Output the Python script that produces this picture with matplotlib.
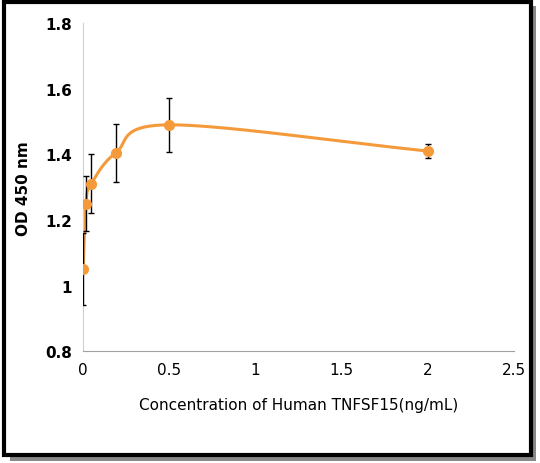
import numpy as np
import matplotlib
matplotlib.use('Agg')
import matplotlib.pyplot as plt
from matplotlib.patches import Rectangle

conc = [0.0, 0.016, 0.047, 0.19, 0.5, 2.0]
od = [1.05, 1.25, 1.31, 1.405, 1.49, 1.41]
err = [0.11, 0.085, 0.09, 0.088, 0.082, 0.022]


def catmull(x, y, n=40):
    # smooth line through the points, like Excel's smoothed line
    x = np.asarray(x); y = np.asarray(y)
    px = np.concatenate([[2*x[0]-x[1]], x, [2*x[-1]-x[-2]]])
    py = np.concatenate([[2*y[0]-y[1]], y, [2*y[-1]-y[-2]]])
    xs, ys = [], []
    for i in range(1, len(px)-2):
        t = np.linspace(0, 1, n)
        for arr, out in ((px, xs), (py, ys)):
            p0, p1, p2, p3 = arr[i-1], arr[i], arr[i+1], arr[i+2]
            out.extend(0.5*((2*p1) + (-p0+p2)*t + (2*p0-5*p1+4*p2-p3)*t**2
                            + (-p0+3*p1-3*p2+p3)*t**3))
    return np.array(xs), np.array(ys)


fig = plt.figure(figsize=(5.4, 4.64), dpi=100)
# frame with shadow
fig.patches.append(Rectangle((0.018, 0.005), 0.975, 0.98, transform=fig.transFigure,
                             facecolor='#888888', edgecolor='none', zorder=-3))
fig.patches.append(Rectangle((0.008, 0.018), 0.975, 0.975, transform=fig.transFigure,
                             facecolor='white', edgecolor='black', linewidth=3, zorder=-2))

ax = fig.add_axes([0.154, 0.241, 0.798, 0.707])
ax.set_facecolor('none')
sx, sy = catmull(conc, od)
ax.plot(sx, sy, color='#F59A3A', linewidth=2.2, zorder=2)
ax.errorbar(conc, od, yerr=err, fmt='o', color='#F59A3A', ecolor='black',
            elinewidth=1, capsize=2.5, markersize=7, zorder=3)

ax.set_xlim(0, 2.5)
ax.set_ylim(0.8, 1.8)
ax.set_xticks([0, 0.5, 1, 1.5, 2, 2.5])
ax.set_xticklabels(['0', '0.5', '1', '1.5', '2', '2.5'])
ax.set_yticks([0.8, 1, 1.2, 1.4, 1.6, 1.8])
ax.set_yticklabels(['0.8', '1', '1.2', '1.4', '1.6', '1.8'])
for s in ['top', 'right']:
    ax.spines[s].set_visible(False)
ax.spines['left'].set_color('#d0d0d0')
ax.spines['bottom'].set_color('#a0a0a0')
ax.tick_params(length=0, labelsize=11, pad=8)
for lab in ax.get_yticklabels():
    lab.set_fontweight('bold')
ax.set_ylabel('OD 450 nm', fontsize=11, fontweight='bold', labelpad=10)
ax.set_xlabel('Concentration of Human TNFSF15(ng/mL)', fontsize=11, labelpad=14)

fig.savefig('out.png', dpi=100)
